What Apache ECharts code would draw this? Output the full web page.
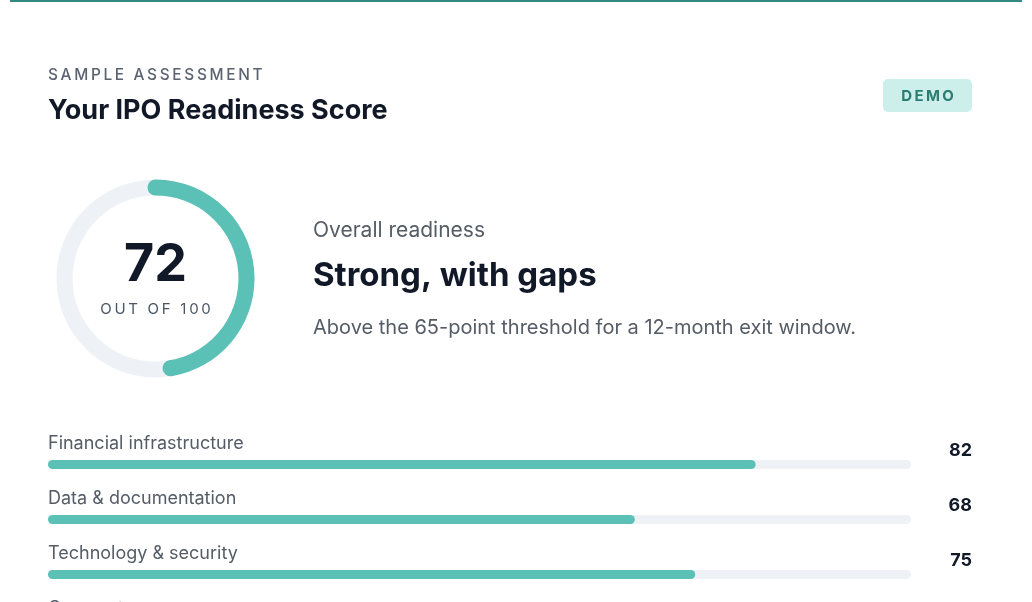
<!DOCTYPE html>
<html>
<head>
<meta charset="utf-8">
<title>IPO Readiness Score</title>
<script src="https://cdn.jsdelivr.net/npm/echarts@6/dist/echarts.min.js"></script>
<style>
  html, body { margin: 0; padding: 0; background: #ffffff; }
  #chart { width: 1032px; height: 602px; }
</style>
</head>
<body>
<div id="chart"></div>
<script>
  // data
  var overallScore = 72;
  var overallMax = 100;
  var categories = ['Financial infrastructure', 'Data & documentation', 'Technology & security', 'Corporate governance'];
  var scores = [82, 68, 75, 64];
  var barMax = 100;
  // the ring in the picture only sweeps ~170 degrees for 72, so its scale is stretched
  var ringScaleMax = 152;

  var FONT = 'Inter, "Noto Sans", sans-serif';
  var TEAL = '#5bc1b7';
  var TRACK = '#eef2f7';

  function spaced(s) {
    return s.split('').join('\u2009');
  }

  var chart = echarts.init(document.getElementById('chart'));
  chart.setOption({
    backgroundColor: '#ffffff',
    animation: false,
    graphic: [
      {type: 'rect', shape: {x: 10, y: 0, width: 1012, height: 2}, style: {fill: '#33897d'}},
      {type: 'text', left: 48, top: 68, style: {text: spaced('SAMPLE ASSESSMENT'), font: '500 15.4px ' + FONT, fill: '#5b6270'}},
      {type: 'text', left: 48, top: 97, style: {text: 'Your IPO Readiness Score', font: '700 27px ' + FONT, fill: '#111827'}},
      {type: 'rect', shape: {x: 883, y: 79, width: 89, height: 33, r: 5}, style: {fill: '#cdefec'}},
      {type: 'text', x: 927.5, y: 96, style: {text: spaced('DEMO'), font: '700 15px ' + FONT, fill: '#2b7d72', align: 'center', verticalAlign: 'middle'}},
      {type: 'text', left: 313, top: 220, style: {text: 'Overall readiness', font: '400 21px ' + FONT, fill: '#555c66'}},
      {type: 'text', left: 313, top: 260, style: {text: 'Strong, with gaps', font: '700 33px ' + FONT, fill: '#111827'}},
      {type: 'text', left: 313, top: 318, style: {text: 'Above the 65-point threshold for a 12-month exit window.', font: '400 20px ' + FONT, fill: '#555c66'}}
    ],
    grid: {left: 48, right: 121, top: 437, height: 220, containLabel: false, outerBoundsMode: 'none'},
    xAxis: {type: 'value', min: 0, max: barMax, show: false},
    yAxis: {type: 'category', inverse: true, data: categories, show: false},
    series: [
      {
        type: 'gauge',
        center: [155.5, 278.5],
        radius: 99,
        startAngle: 90,
        endAngle: -270,
        clockwise: true,
        min: 0,
        max: ringScaleMax,
        axisLine: {lineStyle: {width: 16, color: [[1, TRACK]]}},
        progress: {show: true, width: 16, roundCap: true, itemStyle: {color: TEAL}},
        splitLine: {show: false},
        axisTick: {show: false},
        axisLabel: {show: false},
        pointer: {show: false},
        anchor: {show: false},
        title: {show: false},
        detail: {
          offsetCenter: [0, 3],
          fontFamily: FONT,
          formatter: function (v) {
            return '{v|' + v + '}\n{s|' + spaced('OUT OF ' + overallMax) + '}';
          },
          rich: {
            v: {fontSize: 52, fontWeight: 700, fontFamily: FONT, color: '#111827', lineHeight: 56},
            s: {fontSize: 15, fontWeight: 400, fontFamily: FONT, color: '#4b5563', lineHeight: 32}
          }
        },
        data: [{value: overallScore}]
      },
      {
        type: 'bar',
        barWidth: 9,
        barGap: '-100%',
        silent: true,
        itemStyle: {color: TRACK, borderRadius: 5},
        label: {
          show: true,
          position: 'right',
          distance: 0,
          align: 'right',
          offset: [61, -14],
          fontSize: 18,
          fontWeight: 700,
          fontFamily: FONT,
          color: '#111827',
          formatter: function (p) { return scores[p.dataIndex]; }
        },
        data: categories.map(function () { return barMax; })
      },
      {
        type: 'bar',
        barWidth: 9,
        barGap: '-100%',
        itemStyle: {color: TEAL, borderRadius: 5},
        label: {
          show: true,
          position: [0, -16],
          align: 'left',
          verticalAlign: 'middle',
          fontSize: 18,
          fontFamily: FONT,
          color: '#555c66',
          formatter: '{b}'
        },
        data: scores
      }
    ]
  });
</script>
</body>
</html>
